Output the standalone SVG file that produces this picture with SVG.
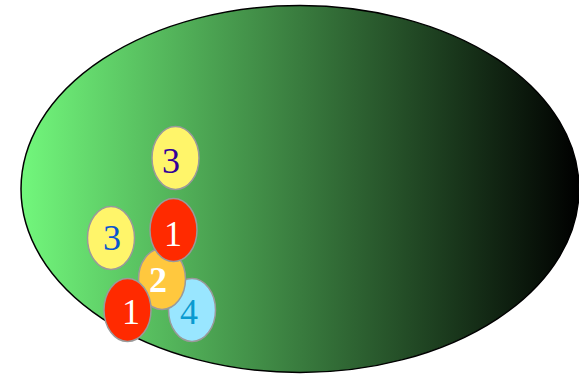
<svg xmlns="http://www.w3.org/2000/svg" width="579" height="375" viewBox="0 0 579 375">
  <defs>
    <linearGradient id="field" x1="0" y1="0" x2="1" y2="0">
      <stop offset="0" stop-color="#72f77c"/>
      <stop offset="1" stop-color="#000000"/>
    </linearGradient>
  </defs>
  <style>
    .token { stroke: #9a9a9a; stroke-width: 1.5; }
    .num { font-family: "Liberation Serif", "Times New Roman", serif; font-size: 36px; text-anchor: middle; }
    .yellow { fill: #fff56a; }
    .red { fill: #ff2a00; }
    .orange { fill: #ffc83e; }
    .cyan { fill: #99e6ff; }
  </style>

  <g id="field-area">
    <ellipse cx="300" cy="189" rx="279" ry="183.5" fill="url(#field)" stroke="#000" stroke-width="1.5"/>
  </g>

  <g id="connectors"></g>

  <g id="token-3-top">
    <ellipse class="token yellow" cx="175.5" cy="158" rx="23.5" ry="31.5"/>
    <text class="num" x="171" y="172.5" fill="#330099">3</text>
  </g>
  <g id="token-3-left">
    <ellipse class="token yellow" cx="111" cy="238" rx="23.5" ry="31.5"/>
    <text class="num" x="112" y="250" fill="#0a55d0">3</text>
  </g>
  <g id="token-4">
    <ellipse class="token cyan" cx="192" cy="310" rx="23.5" ry="31.5"/>
    <text class="num" x="189" y="324" fill="#0a9ad0">4</text>
  </g>
  <g id="token-2">
    <ellipse class="token orange" cx="162" cy="279" rx="23.5" ry="30.5"/>
    <text class="num" x="158" y="292" fill="#ffffff" font-weight="bold">2</text>
  </g>
  <g id="token-1-upper">
    <ellipse class="token red" cx="173.5" cy="230" rx="23.5" ry="31.5"/>
    <text class="num" x="173" y="246" fill="#ffffff">1</text>
  </g>
  <g id="token-1-lower">
    <ellipse class="token red" cx="127.5" cy="310" rx="23.5" ry="31.5"/>
    <text class="num" x="131" y="324" fill="#ffffff">1</text>
  </g>
</svg>
